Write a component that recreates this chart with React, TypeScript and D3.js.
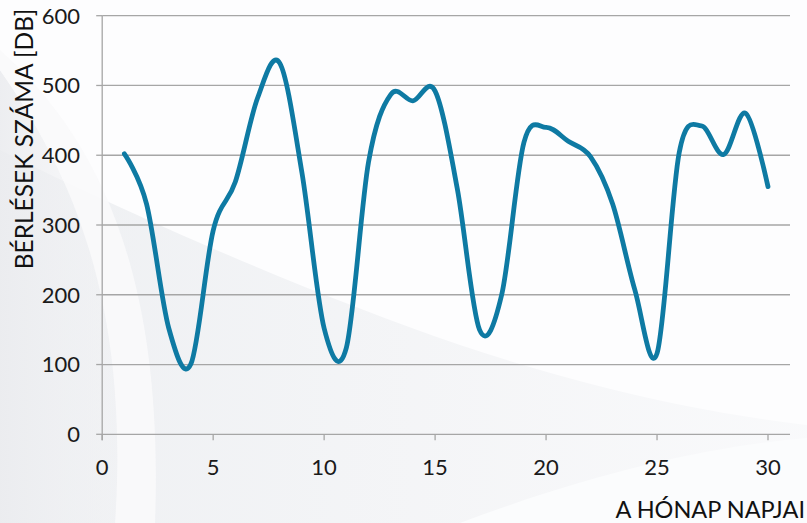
import React from "react";
import * as d3 from "d3";

const days = [1,2,3,4,5,6,7,8,9,10,11,12,13,14,15,16,17,18,19,20,21,22,23,24,25,26,27,28,29,30];
const rentals = [402,330,152,101,292,362,482,532,375,152,124,390,487,478,492,352,150,200,418,440,420,398,330,207,116,404,442,401,460,355];
const xTicks = [0,5,10,15,20,25,30];
const yTicks = [0,100,200,300,400,500,600];
const yTitle = "BÉRLÉSEK SZÁMA [DB]";
const xTitle = "A HÓNAP NAPJAI";

const W = 807, H = 523;
const FONT = "Lato, 'Open Sans', sans-serif";

export default function App() {
  const x = d3.scaleLinear().domain([0, 30]).range([102.2, 768]);
  const y = d3.scaleLinear().domain([0, 600]).range([434.3, 15.7]);
  const line = d3.line<number>()
    .x((_, i) => x(days[i]))
    .y((d) => y(d))
    .curve(d3.curveCatmullRom.alpha(0));
  const gridRight = 790;

  return (
    <svg width={W} height={H} style={{ position: "absolute", left: 0, top: 0, background: "#fff" }}>
      <defs>
        <linearGradient id="sw1" x1="0" y1="0" x2="1" y2="0">
          <stop offset="0" stopColor="#eceef1" stopOpacity="0.9" />
          <stop offset="0.6" stopColor="#f3f4f6" stopOpacity="0.8" />
          <stop offset="1" stopColor="#f6f7f9" stopOpacity="0.6" />
        </linearGradient>
        <linearGradient id="sw2" x1="0" y1="0" x2="1" y2="0">
          <stop offset="0" stopColor="#ebecef" stopOpacity="0.9" />
          <stop offset="1" stopColor="#f2f3f5" stopOpacity="0.4" />
        </linearGradient>
      </defs>
      <rect x={0} y={0} width={W} height={H} fill="#fdfdfe" />
      <path d="M0,150 C120,210 300,290 460,345 C600,392 720,415 807,425 L807,523 L0,523 Z" fill="url(#sw1)" />
      <path d="M460,523 C600,470 720,445 807,438 L807,523 Z" fill="#fbfcfd" />
      <path d="M0,70 C70,170 130,300 115,523 L0,523 Z" fill="url(#sw2)" />
      <path d="M0,50 C90,130 165,260 155,523 L115,523 C130,300 70,170 0,70 Z" fill="#fafafb" opacity="0.9" />

      {yTicks.map((t) => (
        <g key={"y" + t}>
          <line x1={x(0)} x2={gridRight} y1={y(t)} y2={y(t)} stroke="#a6a6a6" strokeWidth={1.3} />
          <line x1={x(0) - 6} x2={x(0)} y1={y(t)} y2={y(t)} stroke="#a6a6a6" strokeWidth={1.3} />
          <text x={80} y={y(t)} dy="0.36em" textAnchor="end" fontFamily={FONT} fontSize={22} fill="#1a1a1a">{t}</text>
        </g>
      ))}
      <line x1={x(0)} x2={x(0)} y1={y(600)} y2={y(0) + 6} stroke="#a6a6a6" strokeWidth={1.3} />
      {xTicks.map((t) => (
        <g key={"x" + t}>
          <line x1={x(t)} x2={x(t)} y1={y(0)} y2={y(0) + 6} stroke="#a6a6a6" strokeWidth={1.3} />
          <text x={x(t)} y={467} dy="0.36em" textAnchor="middle" fontFamily={FONT} fontSize={22} fill="#1a1a1a">{t}</text>
        </g>
      ))}

      <path d={line(rentals) || ""} fill="none" stroke="#0e7aa3" strokeWidth={4.8} strokeLinecap="round" strokeLinejoin="round" />

      <text transform={`translate(33,${139}) rotate(-90)`} textAnchor="middle" fontFamily={FONT} fontSize={24.5} fill="#111">{yTitle}</text>
      <text x={805} y={518} textAnchor="end" fontFamily={FONT} fontSize={23.5} fill="#111">{xTitle}</text>
    </svg>
  );
}
